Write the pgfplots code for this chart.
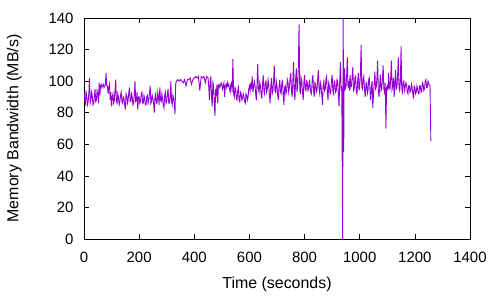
\documentclass[border=0pt]{standalone}
\usepackage{pgfplots}
\pgfplotsset{compat=1.18}
\usepackage{fontspec}
\setmainfont{Liberation Sans}
\definecolor{gpviolet}{RGB}{148,0,211}
\begin{document}
\begin{tikzpicture}
\path[use as bounding box] (0,0) rectangle (500bp,300bp);
\begin{axis}[
  at={(84bp,61bp)}, anchor=south west,
  scale only axis, width=386bp, height=221bp,
  xmin=0, xmax=1400, ymin=0, ymax=140,
  xtick={0,200,...,1400}, ytick={0,20,...,140},
  tick align=inside, tick pos=both,
  major tick length=5bp,
  axis line style={line width=0.8pt},
  every tick/.style={line width=0.6pt, black},
  /pgf/number format/assume math mode=true,
  /pgf/number format/1000 sep={},
  tick label style={font=\fontsize{15}{17}\selectfont},
  xticklabel style={yshift=-10bp},
  yticklabel style={xshift=-7bp},
  label style={font=\fontsize{16}{18}\selectfont},
  xlabel={Time (seconds)},
  ylabel={Memory Bandwidth (MB/s)},
  xlabel style={yshift=-7bp},
  ylabel style={yshift=20bp},
  clip=true,
]
\addplot[gpviolet, line width=0.9pt, mark=none] coordinates {
(0,93) (2.5,88) (5,86) (7.5,94) (10,90) (12.5,85) (15,87) (17.5,92) (20,102) (22.5,86) (25,88) (27.5,93)
(30,91) (32.5,85) (35,86) (37.5,90) (40,95) (42.5,87) (45,88) (47.5,94) (50,92) (52.5,86) (55,99) (57.5,91)
(60,97) (62.5,98) (65,96) (67.5,97) (70,98) (72.5,96) (75,97) (77.5,98) (80,105) (82.5,97) (85,97) (87.5,92) (90,96) (92.5,98)
(95,88) (97.5,93) (100,84) (102.5,90) (105,92) (107.5,86) (110,88) (112.5,94) (115,101) (117.5,87)
(120,86) (122.5,92) (125,90) (127.5,85) (130,87) (132.5,91) (135,93) (137.5,87) (140,86) (142.5,90)
(145,89) (147.5,85) (150,82) (152.5,92) (155,91) (157.5,86) (160,88) (162.5,93) (165,96) (167.5,87)
(170,87) (172.5,92) (175,90) (177.5,85) (180,86) (182.5,91) (185,100) (187.5,87) (190,88) (192.5,93)
(195,82) (197.5,90) (200,90) (202.5,86) (205,87) (207.5,92) (210,93) (212.5,86) (215,86) (217.5,91)
(220,89) (222.5,85) (225,85) (227.5,90) (230,91) (232.5,86) (235,88) (237.5,92) (240,97) (242.5,86)
(245,87) (247.5,91) (250,89) (252.5,86) (255,80) (257.5,90) (260,92) (262.5,86) (265,86) (267.5,93)
(270,90) (272.5,85) (275,96) (277.5,88) (280,87) (282.5,92) (285,89) (287.5,85) (290,83) (292.5,91)
(295,93) (297.5,86) (300,87) (302.5,92) (305,95) (307.5,86) (310,86) (312.5,90) (315,100) (317.5,87)
(320,85) (322.5,91) (325,89) (327.5,86) (330,79) (332.5,98)
(335,100) (340,101) (345,100) (350,101) (355,100) (360,99) (365,101) (370,97) (375,101) (380,101)
(385,102) (390,98) (395,101) (400,102) (405,103) (410,102) (415,103) (420,94) (425,103) (430,102)
(435,103) (440,99) (445,103) (450,102)
(452.5,96) (455,88) (457.5,100) (460,103) (462.5,90) (465,84) (467.5,99) (470,97) (472.5,86) (475,78)
(477.5,95) (480,92) (482.5,98) (485,86) (487.5,97) (490,98) (492.5,96) (495,97) (497.5,99) (500,98)
(502.5,95) (505,97) (507.5,99) (510,90) (512.5,97) (515,98) (517.5,96) (520,99) (522.5,97) (525,98)
(527.5,95) (530,93) (532.5,98) (535,99) (537.5,93) (540,114) (542.5,92) (545,90) (547.5,96) (550,95)
(552.5,89) (555,88) (557.5,94) (560,96) (562.5,88) (565,87) (567.5,93) (570,92) (572.5,88) (575,89)
(577.5,92) (580,90) (582.5,87) (585,86) (587.5,92) (590,91) (592.5,88) (595,90) (597.5,95) (600,97)
(602.5,94) (605,99) (607.5,95) (610,103) (612.5,93) (615,96) (617.5,100) (620,98) (622.5,92) (625,88)
(627.5,98) (630,111) (632.5,95) (635,93) (637.5,99) (640,97) (642.5,92) (645,89) (647.5,98) (650,104)
(652.5,94) (655,92) (657.5,99) (660,100) (662.5,93) (665,95) (667.5,101) (670,98) (672.5,91) (675,86)
(677.5,97) (680,102) (682.5,92) (685,94) (687.5,100) (690,110) (692.5,94) (695,93) (697.5,100) (700,97)
(702.5,91) (705,88) (707.5,97) (710,101) (712.5,93) (715,92) (717.5,99) (720,100) (722.5,92) (725,85)
(727.5,96) (730,97) (732.5,92) (735,94) (737.5,101) (740,99) (742.5,93) (745,96) (747.5,102) (750,105)
(752.5,94) (755,90) (757.5,100) (760,112) (762.5,93) (765,88) (767.5,101) (770,108) (772.5,93) (775,97)
(777.5,110) (780,136) (782.5,95) (785,92) (787.5,102) (790,100) (792.5,93) (795,88) (797.5,99) (800,104)
(802.5,95) (805,94) (807.5,100) (810,99) (812.5,94) (815,95) (817.5,101) (820,97) (822.5,93) (825,92)
(827.5,100) (830,104) (832.5,94) (835,90) (837.5,99) (840,98) (842.5,93) (845,94) (847.5,101) (850,107)
(852.5,95) (855,92) (857.5,99) (860,97) (862.5,91) (865,85) (867.5,97) (870,100) (872.5,94) (875,95)
(877.5,101) (880,103) (882.5,93) (885,88) (887.5,99) (890,97) (892.5,92) (895,93) (897.5,100) (900,104)
(902.5,94) (905,91) (907.5,100) (910,99) (912.5,93) (915,94) (917.5,101) (920,100) (922.5,92) (925,84)
(927.5,100) (930,112) (932.5,95) (935,96) (938,0) (940,140) (942,55) (943.5,104) (945,108) (947.5,95)
(950,96) (952.5,103) (955,115) (957.5,96) (960,100) (962.5,94) (965,104) (967.5,96) (970,97) (972.5,103)
(975,109) (977.5,94) (980,95) (982.5,102) (985,103) (987.5,93) (990,92) (992.5,100) (995,105) (997.5,94)
(1000,97) (1002.5,104) (1005,123) (1007.5,96) (1010,95) (1012.5,101) (1015,103) (1017.5,94) (1020,90) (1022.5,98)
(1025,99) (1027.5,92) (1030,94) (1032.5,101) (1035,102) (1037.5,93) (1040,88) (1042.5,97) (1045,100) (1047.5,83)
(1050,92) (1052.5,99) (1055,106) (1057.5,95) (1060,96) (1062.5,102) (1065,113) (1067.5,94) (1070,90) (1072.5,98)
(1075,104) (1077.5,94) (1080,95) (1082.5,102) (1085,110) (1087.5,95) (1090,93) (1092.5,99) (1095,70) (1097.5,96)
(1100,97) (1102.5,94) (1105,105) (1107.5,96) (1110,95) (1112.5,103) (1115,113) (1117.5,95) (1120,97) (1122.5,102)
(1125,90) (1127.5,99) (1130,107) (1132.5,95) (1135,96) (1137.5,104) (1140,115) (1142.5,96) (1145,94) (1147.5,100)
(1150,122) (1152.5,95) (1155,93) (1157.5,99) (1160,100) (1162.5,94) (1165,96) (1167.5,99) (1170,98) (1172.5,93)
(1175,92) (1177.5,97) (1180,97) (1182.5,93) (1185,94) (1187.5,98) (1190,96) (1192.5,92) (1195,89) (1197.5,97)
(1200,96) (1202.5,92) (1205,93) (1207.5,97) (1210,95) (1212.5,92) (1215,92) (1217.5,97) (1220,97) (1222.5,93)
(1225,94) (1227.5,99) (1230,98) (1232.5,94) (1235,95) (1237.5,100) (1240,101) (1242.5,96) (1245,96) (1247.5,100)
(1250,99) (1252.5,97) (1255,97) (1258,62)
};
\end{axis}
\end{tikzpicture}
\end{document}
